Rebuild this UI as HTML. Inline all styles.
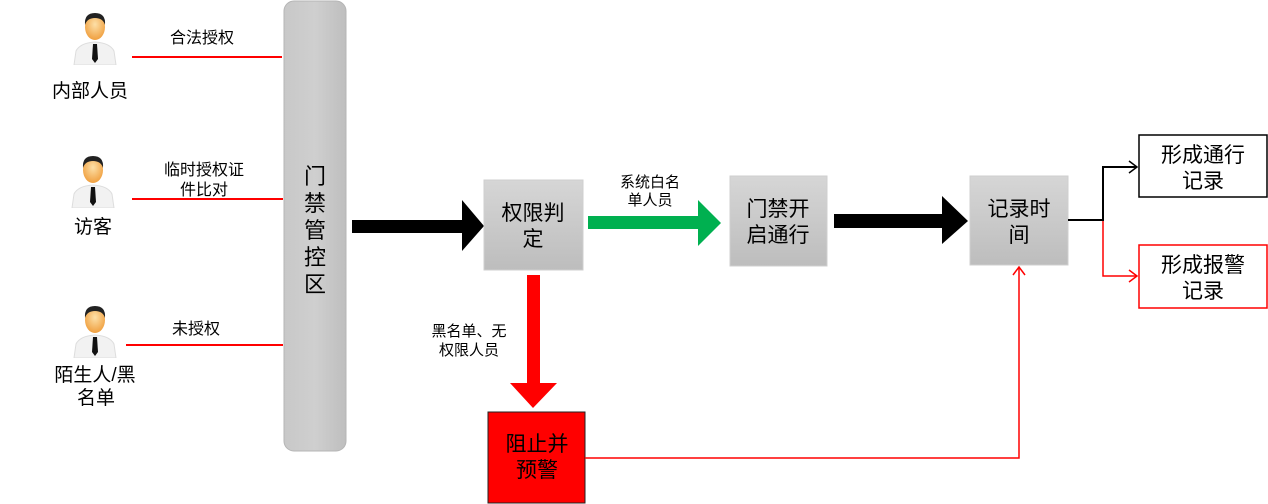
<!DOCTYPE html>
<html><head><meta charset="utf-8"><style>
html,body{margin:0;padding:0;background:#fff;}
svg{display:block;}
text{font-family:"Liberation Sans","Noto Sans CJK SC",sans-serif;fill:#000;}
</style></head><body>
<svg width="1268" height="504" viewBox="0 0 1268 504" xmlns="http://www.w3.org/2000/svg">
<defs>
<linearGradient id="g" x1="0" y1="0" x2="0" y2="1"><stop offset="0" stop-color="#d6d6d6"/><stop offset="1" stop-color="#bdbdbd"/></linearGradient>
<linearGradient id="gb" x1="0" y1="0" x2="1" y2="0"><stop offset="0" stop-color="#c8c8c8"/><stop offset="0.5" stop-color="#cfcfcf"/><stop offset="1" stop-color="#bebebe"/></linearGradient>
<radialGradient id="face" cx="0.5" cy="0.4" r="0.6"><stop offset="0" stop-color="#fde0a8"/><stop offset="1" stop-color="#f0a040"/></radialGradient>
<symbol id="p" viewBox="0 0 50 56" width="50" height="56">
<path d="M4 56 L6 42 Q10 34 25 33 Q40 34 44 42 L46 56 Z" fill="#f2f2f2" stroke="#ddd"/>
<path d="M23 35 L27 35 L28 50 L25 54 L22 50 Z" fill="#111"/>
<ellipse cx="25" cy="18" rx="10" ry="13" fill="url(#face)"/>
<path d="M15 16 Q14 4 25 4 Q36 4 35 16 Q33 9 25 9 Q17 9 15 16 Z" fill="#222"/>
</symbol>
</defs>

<use href="#p" x="70" y="9"/>
<use href="#p" x="68" y="152"/>
<use href="#p" x="70" y="302"/>

<g font-size="19" text-anchor="middle">
<text x="90" y="97">内部人员</text>
<text x="93" y="233">访客</text>
<text x="95" y="381">陌生人/黑</text>
<text x="96" y="404">名单</text>
</g>

<g stroke="#f00" stroke-width="2">
<line x1="132" y1="57" x2="282" y2="57"/>
<line x1="132" y1="199" x2="283" y2="199"/>
<line x1="126" y1="345" x2="283" y2="345"/>
</g>
<g font-size="16" text-anchor="middle">
<text x="202" y="43">合法授权</text>
<text x="204" y="175">临时授权证</text>
<text x="204" y="195">件比对</text>
<text x="196" y="334">未授权</text>
</g>

<rect x="284" y="1" width="62" height="450" rx="10" fill="url(#gb)" stroke="#b5b5b5"/>
<g font-size="22" text-anchor="middle">
<text x="315" y="184">门</text>
<text x="315" y="211">禁</text>
<text x="315" y="238">管</text>
<text x="315" y="265">控</text>
<text x="315" y="292">区</text>
</g>

<polygon points="352,220 462,220 462,200 484,226 462,251 462,233 352,233" fill="#000"/>

<rect x="484" y="180" width="99" height="90" fill="url(#g)" stroke="#cfcfcf"/>
<text x="533" y="220" font-size="21" text-anchor="middle">权限判</text>
<text x="533" y="246" font-size="21" text-anchor="middle">定</text>

<polygon points="588,216 698,216 698,200 721,223 698,246 698,229 588,229" fill="#00b050"/>
<text x="650" y="187" font-size="15" text-anchor="middle">系统白名</text>
<text x="650" y="205" font-size="15" text-anchor="middle">单人员</text>

<rect x="730" y="176" width="97" height="90" fill="url(#g)" stroke="#cfcfcf"/>
<text x="778" y="216" font-size="21" text-anchor="middle">门禁开</text>
<text x="778" y="242" font-size="21" text-anchor="middle">启通行</text>

<polygon points="834,214 942,214 942,196 968,221 942,244 942,228 834,228" fill="#000"/>

<rect x="970" y="176" width="98" height="89" fill="url(#g)" stroke="#cfcfcf"/>
<text x="1019" y="216" font-size="21" text-anchor="middle">记录时</text>
<text x="1019" y="242" font-size="21" text-anchor="middle">间</text>

<polyline points="1068,220 1103,220 1103,167 1136,167" fill="none" stroke="#000" stroke-width="2"/>
<polyline points="1129,161 1137,167 1129,173" fill="none" stroke="#000" stroke-width="1.5"/>
<polyline points="1103,221 1103,276 1136,276" fill="none" stroke="#f00" stroke-width="1.5"/>
<polyline points="1129,270 1137,276 1129,282" fill="none" stroke="#f00" stroke-width="1.5"/>

<rect x="1139" y="135" width="128" height="62" fill="#fff" stroke="#000" stroke-width="1.5"/>
<text x="1203" y="162" font-size="21" text-anchor="middle">形成通行</text>
<text x="1203" y="188" font-size="21" text-anchor="middle">记录</text>
<rect x="1139" y="245" width="128" height="63" fill="#fff" stroke="#f00" stroke-width="1.5"/>
<text x="1203" y="272" font-size="21" text-anchor="middle">形成报警</text>
<text x="1203" y="298" font-size="21" text-anchor="middle">记录</text>

<polygon points="527,275 540,275 540,383 557,383 533,408 510,383 527,383" fill="#f00"/>
<text x="469" y="336" font-size="15" text-anchor="middle">黑名单、无</text>
<text x="469" y="355" font-size="15" text-anchor="middle">权限人员</text>

<rect x="488" y="412" width="97" height="91" fill="#f00" stroke="#222" stroke-width="1"/>
<text x="537" y="451" font-size="21" text-anchor="middle">阻止并</text>
<text x="537" y="477" font-size="21" text-anchor="middle">预警</text>

<polyline points="585,458 1019,458 1019,268" fill="none" stroke="#f00" stroke-width="1.5"/>
<polyline points="1013,275 1019,267 1025,275" fill="none" stroke="#f00" stroke-width="1.5"/>
</svg>
</body></html>
